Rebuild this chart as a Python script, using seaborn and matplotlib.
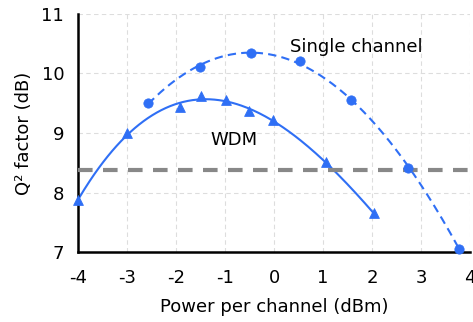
import matplotlib
matplotlib.use('Agg')
import matplotlib.pyplot as plt
import numpy as np
import pandas as pd
import seaborn as sns

# Data
single_x = [-2.57, -1.51, -0.48, 0.52, 1.57, 2.74, 3.78]
single_q = [9.50, 10.11, 10.34, 10.21, 9.55, 8.41, 7.06]
wdm_x = [-4.0, -3.0, -1.93, -1.49, -0.98, -0.52, -0.03, 1.06, 2.03]
wdm_q = [7.87, 9.00, 9.43, 9.62, 9.55, 9.37, 9.22, 8.51, 7.65]
threshold = 8.38

blue = '#2f6ff5'

sns.set_style('white')
plt.rcParams['font.family'] = ['DejaVu Sans']
plt.rcParams['axes.unicode_minus'] = False
plt.rcParams['text.color'] = 'black'
plt.rcParams['axes.labelcolor'] = 'black'

fig = plt.figure(figsize=(4.73, 3.22), dpi=100)
ax = fig.add_axes([0.165, 0.217, 0.829, 0.74])

# smooth fitted curves through the measured points
def fit_curve(x, y, deg=3):
    p = np.polyfit(x, y, deg)
    xs = np.linspace(min(x), max(x), 200)
    return pd.DataFrame({'x': xs, 'y': np.polyval(p, xs)})

sc = fit_curve(single_x, single_q)
wd = fit_curve(wdm_x, wdm_q)

sns.lineplot(data=sc, x='x', y='y', ax=ax, color=blue, lw=1.5, linestyle=(0, (4, 2.5)))
sns.lineplot(data=wd, x='x', y='y', ax=ax, color=blue, lw=1.5)
sns.scatterplot(x=single_x, y=single_q, ax=ax, color=blue, marker='o', s=45,
                edgecolor=blue, zorder=5, clip_on=False)
sns.scatterplot(x=wdm_x, y=wdm_q, ax=ax, color=blue, marker='^', s=50,
                edgecolor=blue, zorder=5, clip_on=False)

ax.axhline(threshold, color='#888888', lw=3, linestyle=(0, (3.5, 2.5)), zorder=3)

ax.text(0.33, 10.45, 'Single channel', fontsize=13, color='black', va='center')
ax.text(-1.3, 8.88, 'WDM', fontsize=13, color='black', va='center')

ax.set_xlim(-4, 4)
ax.set_ylim(7, 11)
ax.set_xticks(range(-4, 5))
ax.set_yticks(range(7, 12))
ax.grid(True, color='#dddddd', linestyle=(0, (4, 3)), lw=0.8)
ax.set_axisbelow(True)

for s in ['top', 'right']:
    ax.spines[s].set_visible(False)
for s in ['left', 'bottom']:
    ax.spines[s].set_color('black')
    ax.spines[s].set_linewidth(1.8)
ax.tick_params(direction='inout', length=8, width=1.5, labelsize=13, colors='black')
ax.tick_params(axis='x', pad=8)
ax.tick_params(axis='y', pad=6)

ax.set_xlabel('Power per channel (dBm)', fontsize=13, labelpad=8, color='black')
ax.set_ylabel('Q² factor (dB)', fontsize=13, labelpad=6, color='black')

fig.savefig('out.png', dpi=100)
